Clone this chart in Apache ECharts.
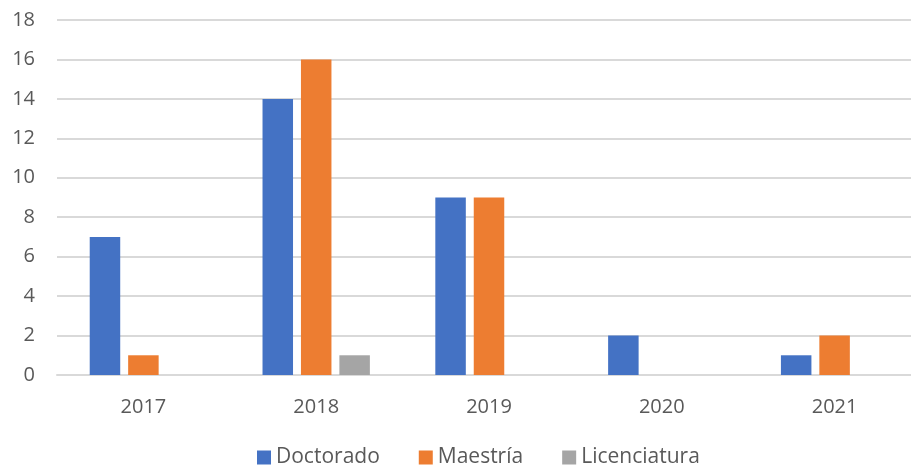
<!DOCTYPE html>
<html><head><meta charset="utf-8">
<script src="https://cdn.jsdelivr.net/npm/echarts@6/dist/echarts.min.js"></script>
<style>html,body{margin:0;padding:0;background:#fff}#c{width:911px;height:468px}</style>
</head><body><div id="c"></div>
<script>
const categories = ['2017','2018','2019','2020','2021'];
const doctorado = [7,14,9,2,1];
const maestria = [1,16,9,0,2];
const licenciatura = [0,1,0,0,0];
const seriesNames = ['Doctorado','Maestría','Licenciatura'];
const colors = ['#4472C4','#ED7D31','#A5A5A5'];
const font = 'Open Sans, Liberation Sans, sans-serif';
const chart = echarts.init(document.getElementById('c'));
const mk = (name, data, i) => ({
  name, type:'bar', data, barWidth:30.5, barGap:'26%',
  itemStyle:{color:colors[i]}
});
chart.setOption({
  animation:false,
  grid:{left:57,width:864,top:20,height:355,outerBoundsMode:'none',containLabel:false},
  legend:{top:442,left:252,itemWidth:14,itemHeight:14,itemGap:39,icon:'rect',
    textStyle:{color:'#595959',fontSize:21,fontFamily:font}},
  xAxis:{type:'category',data:categories,
    axisLine:{lineStyle:{color:'#D9D9D9',width:2}},axisTick:{show:false},
    axisLabel:{color:'#595959',fontSize:20,fontFamily:font,margin:22}},
  yAxis:{type:'value',min:0,max:18,interval:2,
    splitLine:{lineStyle:{color:'#D9D9D9',width:2}},
    axisLabel:{color:'#595959',fontSize:20,fontFamily:font,margin:22}},
  series:[mk(seriesNames[0],doctorado,0),mk(seriesNames[1],maestria,1),mk(seriesNames[2],licenciatura,2)]
});
</script></body></html>
